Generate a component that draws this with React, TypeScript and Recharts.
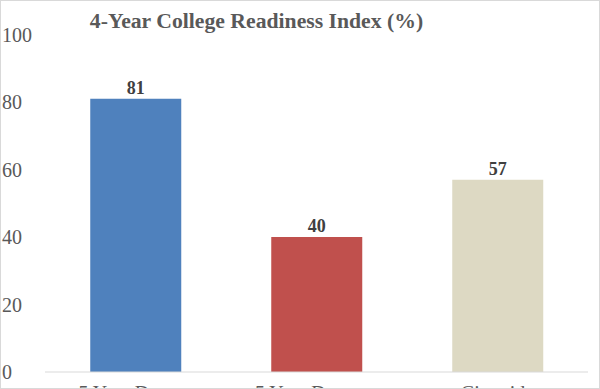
import React from 'react';
import { BarChart, Bar, XAxis, YAxis, LabelList, Cell } from 'recharts';

const categories = ['5 Year Degree', '5 Year Dropout', 'Citywide'];
const values = [81, 40, 57];
const colors = ['#4f81bd', '#c0504d', '#ddd9c3'];
const yTicks = [0, 20, 40, 60, 80, 100];
const title = '4-Year College Readiness Index (%)';

const data = categories.map((name, i) => ({ name, value: values[i] }));

const FONT = '"Liberation Serif", "DejaVu Serif", serif';

const YTick = (props: any) => {
  const { y, payload } = props;
  return (
    <text x={1} y={y} dy="0.35em" textAnchor="start" fill="#595959" fontSize={20} fontFamily={FONT}>
      {payload.value}
    </text>
  );
};

const XTick = (props: any) => {
  const { x, y, payload } = props;
  return (
    <text x={x} y={y + 28} textAnchor="middle" fill="#595959" fontSize={20} fontFamily={FONT}>
      {payload.value}
    </text>
  );
};

export default function App() {
  return (
    <div style={{ position: 'absolute', left: 0, top: 0, width: 600, height: 389 }}>
      <div
        style={{
          position: 'absolute',
          left: 0,
          top: 0,
          width: 600,
          height: 389,
          boxSizing: 'border-box',
          border: '1px solid #d9d9d9',
          background: '#fff',
        }}
      >
        <BarChart
          width={598}
          height={387}
          data={data}
          margin={{ top: 33.5, right: 11, bottom: 0, left: 0 }}
          barCategoryGap="25%"
        >
          <XAxis
            dataKey="name"
            axisLine={{ stroke: '#d9d9d9', strokeWidth: 1 }}
            tickLine={false}
            tickSize={0}
            tickMargin={0}
            height={16}
            tick={<XTick />}
            interval={0}
          />
          <YAxis
            domain={[0, 100]}
            ticks={yTicks}
            axisLine={false}
            tickLine={false}
            width={44}
            tick={<YTick />}
            interval={0}
          />
          <Bar dataKey="value" isAnimationActive={false}>
            {data.map((d, i) => (
              <Cell key={d.name} fill={colors[i]} />
            ))}
            <LabelList
              dataKey="value"
              position="top"
              fill="#404040"
              fontSize={18}
              fontWeight="bold"
              fontFamily={FONT}
            />
          </Bar>
        </BarChart>
      </div>
      <svg
        width={600}
        height={389}
        style={{ position: 'absolute', left: 0, top: 0, pointerEvents: 'none' }}
      >
        <text x={256.5} y={28} textAnchor="middle" fill="#595959" fontSize={21.7} fontWeight="bold" fontFamily={FONT}>
          {title}
        </text>
      </svg>
    </div>
  );
}
